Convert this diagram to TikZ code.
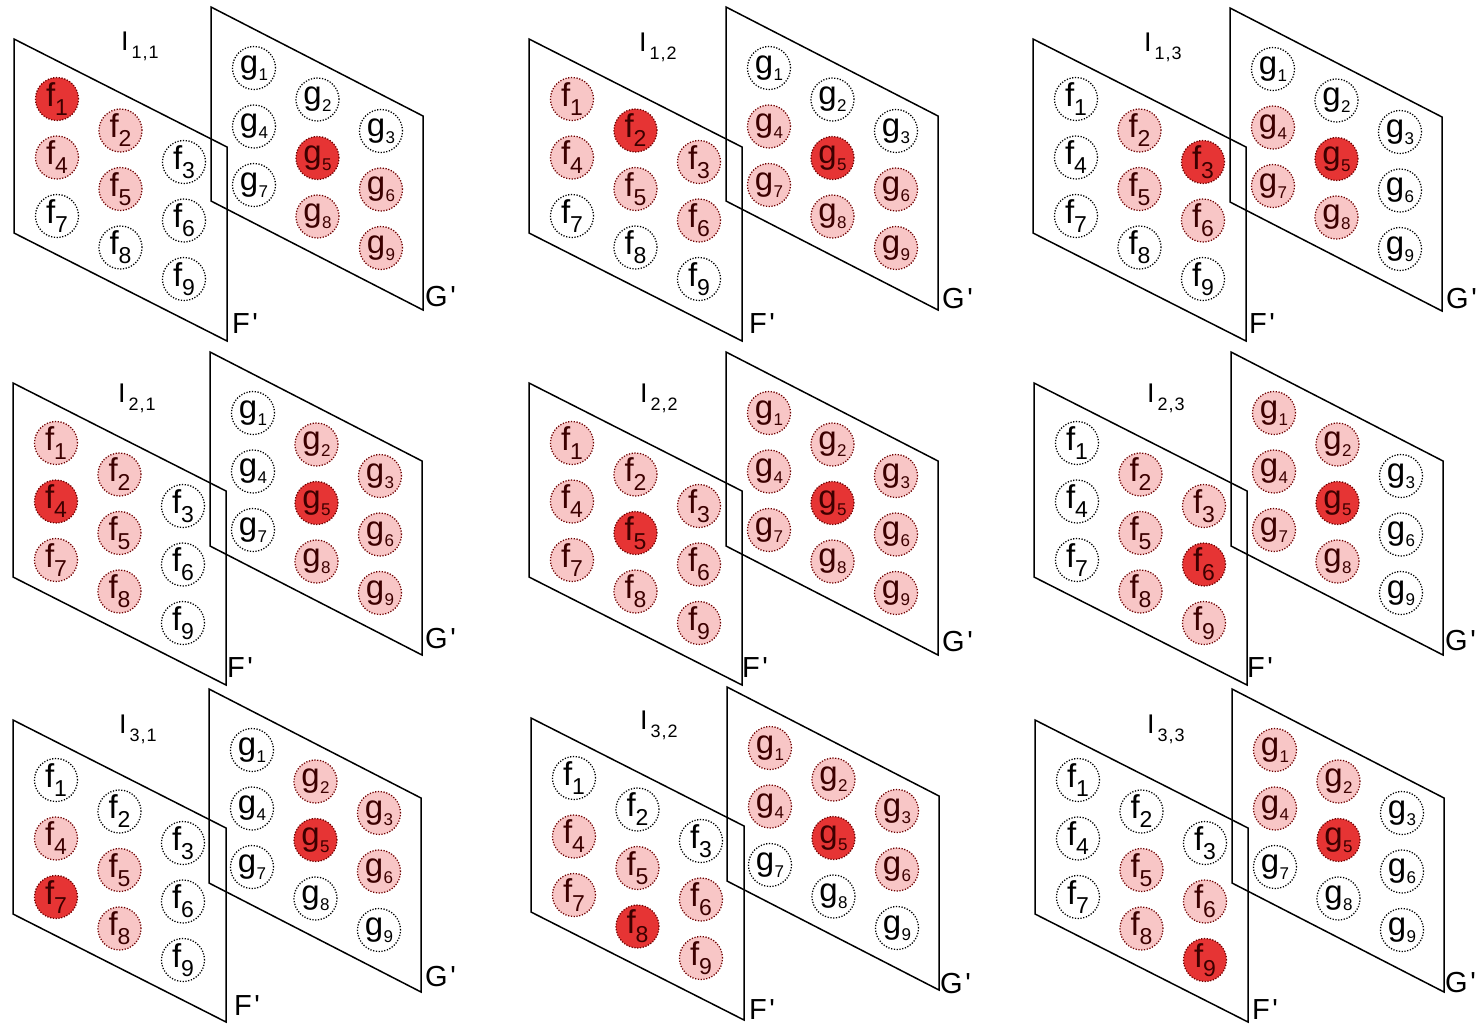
\documentclass[tikz,border=0pt]{standalone}
\usepackage{fontspec}
\newfontfamily\af{Liberation Sans}
\definecolor{redfill}{RGB}{230,52,52}
\definecolor{pinkfill}{RGB}{248,198,198}
\definecolor{darkrim}{RGB}{110,0,0}
\definecolor{darktext}{RGB}{60,0,0}
\newcommand\fsub[1]{f\raisebox{-9pt}{\fontsize{23}{23}\selectfont #1}}
\newcommand\gsub[1]{g\kern0.5pt\raisebox{-7pt}{\fontsize{17}{17}\selectfont #1}}
\newcommand\isub[2]{I\kern3pt\raisebox{-8pt}{\fontsize{18}{18}\selectfont #1\kern1pt,\kern1pt#2}}
\tikzset{
  plane/.style={draw=black, line width=1.5pt, line join=miter},
  cell/.style={circle, minimum size=43pt, inner sep=0pt, line width=1.3pt,
    dash pattern=on 1.2pt off 1.6pt, font=\af\fontsize{33}{33}\selectfont},
  cellw/.style={cell, draw=black, fill=white, text=black},
  cellp/.style={cell, draw=darkrim, fill=pinkfill, text=darktext},
  cellr/.style={cell, draw=darkrim, fill=redfill, text=darktext},
  cstate/.code={\ifcase#1\relax\tikzset{cellw}\or\tikzset{cellp}\or\tikzset{cellr}\fi},
  ptitle/.style={anchor=base west, inner sep=0pt, font=\af\fontsize{27}{27}\selectfont},
  plabel/.style={anchor=base west, inner sep=0pt, font=\af\fontsize{29}{29}\selectfont},
}
\begin{document}
\begin{tikzpicture}[x=1pt, y=-1pt]
\useasboundingbox (0,0) rectangle (1484,1026);
\foreach \p/\r/\c/\fx/\fy/\gx/\gy/\tx/\ty/\flx/\fly/\glx/\gly in {
  1/1/1/14/39/211/7/121/50/232/333/425/306,
  2/1/2/529/39/726/7/639/51/749/333/942/308,
  3/1/3/1033/39/1230/8/1144/51/1249/333/1446/308,
  4/2/1/13/383/210/352/118/402/227/677/425/648,
  5/2/2/529/383/726/352/640/402/742/677/942/651,
  6/2/3/1034/383/1231/352/1147/402/1247/677/1445/650,
  7/3/1/13/720/209/689/119/733/234/1015/425/986,
  8/3/2/531/718/727/687/640/729/749/1019/940/993,
  9/3/3/1035/720/1232/689/1147/733/1252/1019/1445/992}
{
  % planes F' and G'
  \coordinate (F\p) at (\fx,\fy);
  \coordinate (G\p) at (\gx,\gy);
  \draw[plane] (F\p) -- ++(0,194) -- ++(213,108) -- ++(0,-194) -- cycle;
  \draw[plane] (G\p) -- ++(0,194) -- ++(212,109) -- ++(0,-194) -- cycle;
  % cells
  \foreach \a in {1,2,3}{
    \foreach \b in {1,2,3}{
      \pgfmathtruncatemacro\i{3*(\a-1)+\b}
      \pgfmathtruncatemacro\fs{(\a==\r && \b==\c) ? 2 : ((abs(\a-\r)<=1 && abs(\b-\c)<=1) ? 1 : 0)}
      \pgfmathtruncatemacro\gs{(\a==2 && \b==2) ? 2 : ((\a+\r-2>=1 && \a+\r-2<=3 && \b+\c-2>=1 && \b+\c-2<=3) ? 1 : 0)}
      \node[cstate=\fs] (p\p-f\i) at ({\fx+43+63.5*(\b-1)}, {\fy+60+31.5*(\b-1)+58.5*(\a-1)}) {\fsub{\i}};
      \node[cstate=\gs] (p\p-g\i) at ({\gx+43+63.5*(\b-1)}, {\gy+61+31.5*(\b-1)+58.5*(\a-1)}) {\gsub{\i}};
    }
  }
  % labels
  \node[ptitle] (t\p) at (\tx,\ty) {\isub{\r}{\c}};
  \node[plabel] (lf\p) at (\flx,\fly) {F\kern2.5pt'};
  \node[plabel] (lg\p) at (\glx,\gly) {G\kern2.5pt'};
}
\end{tikzpicture}
\end{document}
